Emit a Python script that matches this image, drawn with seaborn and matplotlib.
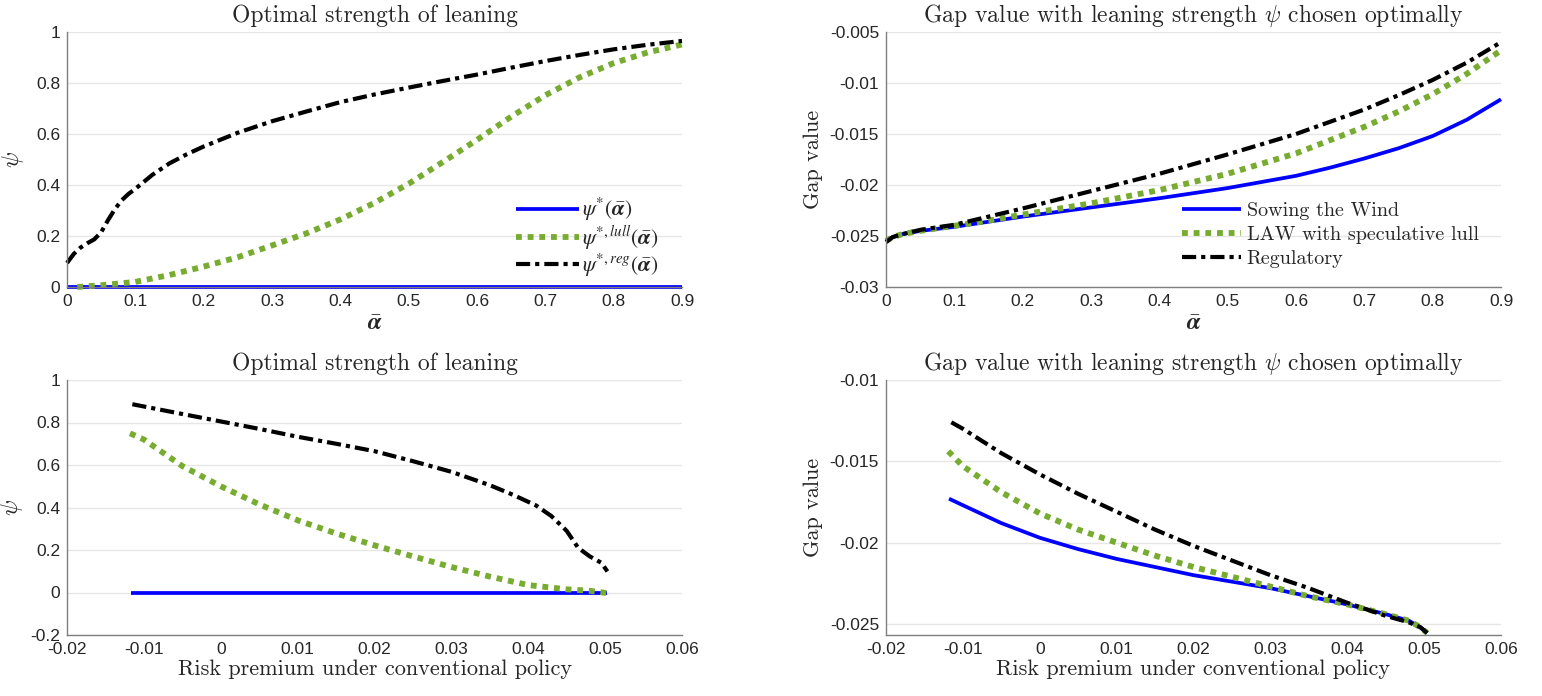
import numpy as np
import pandas as pd
import matplotlib
matplotlib.use("Agg")
import matplotlib.pyplot as plt
from matplotlib.ticker import FuncFormatter, MultipleLocator
import seaborn as sns

# ---------------- data ----------------
# Top-left: optimal psi vs alpha-bar
alpha_reg = [0.0, 0.01, 0.02, 0.03, 0.04, 0.05, 0.06, 0.07, 0.08, 0.09, 0.1, 0.125, 0.15, 0.175,
             0.2, 0.25, 0.3, 0.35, 0.4, 0.45, 0.5, 0.55, 0.6, 0.65, 0.7, 0.75, 0.8, 0.85, 0.9]
psi_reg = [0.094, 0.13, 0.155, 0.172, 0.187, 0.215, 0.262, 0.305, 0.34, 0.365, 0.385, 0.44, 0.485,
           0.52, 0.551, 0.605, 0.65, 0.688, 0.725, 0.755, 0.782, 0.808, 0.833, 0.86, 0.886, 0.91,
           0.932, 0.95, 0.965]
alpha_lull = [0.015, 0.05, 0.1, 0.15, 0.2, 0.25, 0.3, 0.35, 0.4, 0.45, 0.5, 0.55, 0.6, 0.65,
              0.7, 0.75, 0.8, 0.85, 0.9]
psi_lull = [0.0, 0.007, 0.02, 0.047, 0.08, 0.117, 0.163, 0.21, 0.265, 0.33, 0.405, 0.49, 0.577,
            0.668, 0.752, 0.822, 0.878, 0.92, 0.951]
alpha_sow = [0.0, 0.9]
psi_sow = [0.0, 0.0]

# Top-right: gap value vs alpha-bar
alpha_gap = [0.0, 0.01, 0.025, 0.05, 0.1, 0.15, 0.2, 0.3, 0.4, 0.5, 0.6, 0.65, 0.7, 0.75, 0.8, 0.85, 0.9]
gap_sow = [-0.0255, -0.0251, -0.0248, -0.0245, -0.0241, -0.0236, -0.0231, -0.0222, -0.0213,
           -0.0203, -0.0191, -0.0183, -0.0174, -0.0164, -0.0152, -0.0136, -0.0116]
gap_lull = [-0.0255, -0.0251, -0.0248, -0.0245, -0.0240, -0.0235, -0.0229, -0.0218, -0.0205,
            -0.0189, -0.0169, -0.0156, -0.0143, -0.0128, -0.0111, -0.0091, -0.0068]
gap_reg = [-0.0256, -0.0251, -0.0248, -0.0244, -0.0239, -0.0231, -0.0223, -0.0206, -0.0189,
           -0.0170, -0.0150, -0.0138, -0.0126, -0.0112, -0.0097, -0.0080, -0.0060]

# Bottom-left: optimal psi vs risk premium
rp_reg = [-0.0115, -0.005, 0.0, 0.005, 0.01, 0.015, 0.02, 0.025, 0.03, 0.035, 0.038, 0.041,
          0.043, 0.045, 0.0465, 0.048, 0.0495, 0.0503]
psi_reg_rp = [0.886, 0.84, 0.805, 0.77, 0.733, 0.70, 0.665, 0.618, 0.568, 0.505, 0.46, 0.41,
              0.36, 0.29, 0.21, 0.17, 0.14, 0.099]
rp_lull = [-0.0118, -0.01, -0.005, 0.0, 0.005, 0.01, 0.015, 0.02, 0.025, 0.03, 0.035, 0.04,
           0.045, 0.048, 0.0503]
psi_lull_rp = [0.749, 0.72, 0.595, 0.5, 0.415, 0.34, 0.278, 0.222, 0.17, 0.12, 0.075, 0.035,
               0.015, 0.008, -0.003]
rp_sow = [-0.0117, 0.0503]
psi_sow_rp = [0.0, 0.0]

# Bottom-right: gap value vs risk premium
rp_gap_reg = [-0.0115, -0.01, -0.005, 0.0, 0.005, 0.01, 0.015, 0.02, 0.025, 0.03, 0.035, 0.04,
              0.045, 0.048, 0.0495, 0.0504]
gap_reg_rp = [-0.0126, -0.0130, -0.0145, -0.0158, -0.0170, -0.0181, -0.0192, -0.0202, -0.0211,
              -0.0220, -0.0228, -0.0237, -0.0245, -0.0249, -0.0252, -0.02556]
rp_gap_lull = [-0.0119, -0.01, -0.005, 0.0, 0.005, 0.01, 0.015, 0.02, 0.025, 0.03, 0.035, 0.04,
               0.045, 0.048, 0.0495, 0.0504]
gap_lull_rp = [-0.01438, -0.0153, -0.0169, -0.0182, -0.0192, -0.0200, -0.0208, -0.0215, -0.0221,
               -0.0227, -0.0233, -0.0238, -0.0244, -0.0248, -0.0252, -0.02556]
rp_gap_sow = [-0.0118, -0.01, -0.005, 0.0, 0.005, 0.01, 0.015, 0.02, 0.025, 0.03, 0.035, 0.04,
              0.045, 0.048, 0.0495, 0.0504]
gap_sow_rp = [-0.0173, -0.0177, -0.0188, -0.0197, -0.0204, -0.0210, -0.0215, -0.0220, -0.0224,
              -0.0228, -0.0233, -0.0238, -0.0244, -0.0248, -0.0252, -0.02556]

legend_top_left = [r'$\psi^{*}(\mathbf{\bar{\alpha}})$',
                   r'$\psi^{*,lull}(\mathbf{\bar{\alpha}})$',
                   r'$\psi^{*,reg}(\mathbf{\bar{\alpha}})$']
legend_top_right = ['Sowing the Wind', 'LAW with speculative lull', 'Regulatory']

# ---------------- style ----------------
sns.set_theme(style="white")
plt.rcParams['font.family'] = ['Liberation Sans', 'DejaVu Sans']
plt.rcParams['mathtext.fontset'] = 'cm'
plt.rcParams['mathtext.rm'] = 'STIXGeneral'
plt.rcParams['mathtext.it'] = 'STIXGeneral:italic'
plt.rcParams['mathtext.bf'] = 'STIXGeneral:italic:bold'
plt.rcParams['axes.unicode_minus'] = False

BLUE = '#0000FF'
GREEN = '#77AC30'
BLACK = '#000000'
SERIF = 'cmr10'
TICKC = '#262626'
TITLE_FS = 17
LABEL_FS = 16
TICK_FS = 12.5

fig = plt.figure(figsize=(15.42, 6.96), dpi=100)
W, H = 1542, 696

def make_ax(x0, y0, x1, y1):
    return fig.add_axes([x0 / W, 1 - y1 / H, (x1 - x0) / W, (y1 - y0) / H])

ax1 = make_ax(67, 32, 682, 287)
ax2 = make_ax(886, 32, 1501, 287)
ax3 = make_ax(67, 380, 682, 635)
ax4 = make_ax(886, 380, 1501, 635)

fmt = FuncFormatter(lambda v, p: ('%g' % round(v, 6)))

def style(ax):
    for s in ['top', 'right']:
        ax.spines[s].set_visible(False)
    for s in ['left', 'bottom']:
        ax.spines[s].set_color('#7f7f7f')
        ax.spines[s].set_linewidth(1.0)
    ax.tick_params(axis='both', direction='in', length=4, width=0.8, colors='#404040',
                   labelcolor=TICKC, labelsize=TICK_FS, pad=5)
    ax.yaxis.grid(True, color='#e6e6e6', linewidth=1.0)
    ax.xaxis.grid(False)
    ax.set_axisbelow(True)
    ax.xaxis.set_major_formatter(fmt)
    ax.yaxis.set_major_formatter(fmt)
    ax.set_facecolor('white')

lw_blue, lw_green, lw_black = 2.7, 4.2, 3.0
dot = (0, (1.0, 1.0))
dashdot = (0, (3.4, 1.2, 1.0, 1.2))

def draw(ax, xs, ys, labels=None):
    specs = [(BLUE, lw_blue, '-'), (GREEN, lw_green, dot), (BLACK, lw_black, dashdot)]
    for i, ((x, y), (c, lw, ls)) in enumerate(zip(zip(xs, ys), specs)):
        df = pd.DataFrame({'x': x, 'y': y})
        sns.lineplot(data=df, x='x', y='y', ax=ax, color=c, linewidth=lw, linestyle=ls,
                     label=(labels[i] if labels else None), sort=False,
                     solid_capstyle='butt', dash_capstyle='butt', solid_joinstyle='round')

alpha_label = r'$\mathbf{\bar{\alpha}}$'

# Top-left
draw(ax1, [alpha_sow, alpha_lull, alpha_reg], [psi_sow, psi_lull, psi_reg], legend_top_left)
style(ax1)
ax1.set_xlim(0, 0.9)
ax1.set_ylim(0, 1)
ax1.xaxis.set_major_locator(MultipleLocator(0.1))
ax1.yaxis.set_major_locator(MultipleLocator(0.2))
ax1.set_title('Optimal strength of leaning', fontfamily=SERIF, fontsize=TITLE_FS, pad=7)
ax1.set_xlabel(alpha_label, fontsize=17, math_fontfamily='custom', labelpad=3)
ax1.set_ylabel(r'$\psi$', fontsize=17)
ax1.yaxis.set_label_coords(-0.066, 0.5)
leg = ax1.legend(loc='upper right', bbox_to_anchor=(0.975, 0.39), frameon=False,
                 prop={'size': 15.5, 'math_fontfamily': 'custom'},
                 handlelength=2.9, handletextpad=0.15, labelspacing=0.0, borderaxespad=0.0)

# Top-right
draw(ax2, [alpha_gap, alpha_gap, alpha_gap], [gap_sow, gap_lull, gap_reg], legend_top_right)
style(ax2)
ax2.set_xlim(0, 0.9)
ax2.set_ylim(-0.03, -0.005)
ax2.xaxis.set_major_locator(MultipleLocator(0.1))
ax2.yaxis.set_major_locator(MultipleLocator(0.005))
ax2.set_title(r'Gap value with leaning strength $\psi$ chosen optimally', fontfamily=SERIF,
              fontsize=TITLE_FS, pad=7)
ax2.set_xlabel(alpha_label, fontsize=17, math_fontfamily='custom', labelpad=3)
ax2.set_ylabel('Gap value', fontfamily=SERIF, fontsize=LABEL_FS)
ax2.yaxis.set_label_coords(-0.103, 0.5)
leg2 = ax2.legend(loc='upper right', bbox_to_anchor=(0.977, 0.365), frameon=False,
                  prop={'family': SERIF, 'size': 14.5}, handlelength=2.9, handletextpad=0.3,
                  labelspacing=0.3, borderaxespad=0.0)

# Bottom-left
draw(ax3, [rp_sow, rp_lull, rp_reg], [psi_sow_rp, psi_lull_rp, psi_reg_rp])
style(ax3)
ax3.set_xlim(-0.02, 0.06)
ax3.set_ylim(-0.2, 1)
ax3.xaxis.set_major_locator(MultipleLocator(0.01))
ax3.yaxis.set_major_locator(MultipleLocator(0.2))
ax3.set_title('Optimal strength of leaning', fontfamily=SERIF, fontsize=TITLE_FS, pad=7)
ax3.set_xlabel('Risk premium under conventional policy', fontfamily=SERIF, fontsize=LABEL_FS,
               labelpad=2)
ax3.set_ylabel(r'$\psi$', fontsize=17)
ax3.yaxis.set_label_coords(-0.069, 0.5)

# Bottom-right
draw(ax4, [rp_gap_sow, rp_gap_lull, rp_gap_reg], [gap_sow_rp, gap_lull_rp, gap_reg_rp])
style(ax4)
ax4.set_xlim(-0.02, 0.06)
ax4.set_ylim(-0.02568, -0.01)
ax4.xaxis.set_major_locator(MultipleLocator(0.01))
ax4.set_yticks([-0.025, -0.02, -0.015, -0.01])
ax4.set_title(r'Gap value with leaning strength $\psi$ chosen optimally', fontfamily=SERIF,
              fontsize=TITLE_FS, pad=7)
ax4.set_xlabel('Risk premium under conventional policy', fontfamily=SERIF, fontsize=LABEL_FS,
               labelpad=2)
ax4.set_ylabel('Gap value', fontfamily=SERIF, fontsize=LABEL_FS)
ax4.yaxis.set_label_coords(-0.103, 0.5)

for ax in [ax1, ax2, ax3, ax4]:
    for ln in ax.get_lines():
        ln.set_clip_on(False)

fig.savefig('out.png', dpi=100, facecolor='white')
